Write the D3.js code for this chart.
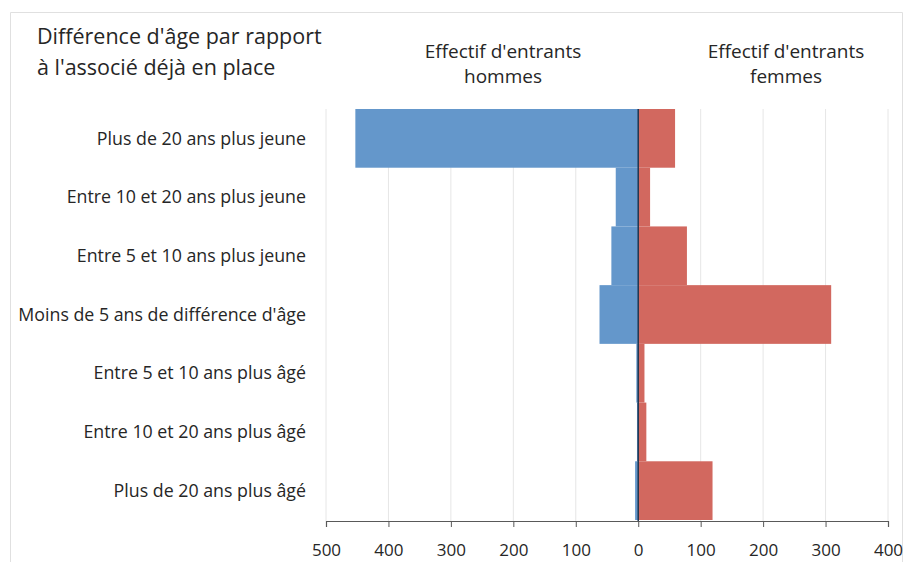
<!DOCTYPE html>
<html>
<head>
<meta charset="utf-8">
<script src="https://cdn.jsdelivr.net/npm/d3@7"></script>
<style>
  html, body { margin: 0; padding: 0; background: #ffffff; }
  svg text { font-family: "Open Sans", "Noto Sans", sans-serif; fill: #262626; }
</style>
</head>
<body>
<svg id="chart" width="909" height="562"></svg>
<script>
const categories = [
  "Plus de 20 ans plus jeune",
  "Entre 10 et 20 ans plus jeune",
  "Entre 5 et 10 ans plus jeune",
  "Moins de 5 ans de différence d'âge",
  "Entre 5 et 10 ans plus âgé",
  "Entre 10 et 20 ans plus âgé",
  "Plus de 20 ans plus âgé"
];
const hommes = [453, 36, 43, 62, 3, 2, 5];
const femmes = [59, 19, 78, 309, 10, 13, 119];
const tickValues = [-500, -400, -300, -200, -100, 0, 100, 200, 300, 400];
const titleLines = ["Différence d'âge par rapport", "à l'associé déjà en place"];
const headerHommes = ["Effectif d'entrants", "hommes"];
const headerFemmes = ["Effectif d'entrants", "femmes"];

const svg = d3.select("#chart");

// frame (top, left, right edges)
svg.append("path").attr("d", "M10.5,562 V12.5 H902.5 V562")
  .attr("fill", "none").attr("stroke", "#e0e0e0");

const x = d3.scaleLinear().domain([-500, 400]).range([326, 888]);
const y = d3.scaleBand().domain(categories).range([109, 520]).padding(0);

// gridlines
svg.append("g").selectAll("line").data(tickValues.filter(v => v !== 0)).join("line")
  .attr("x1", d => x(d)).attr("x2", d => x(d))
  .attr("y1", 109).attr("y2", 521)
  .attr("stroke", "#e6e6e6").attr("stroke-width", 1);

// bars
svg.append("g").selectAll("rect").data(categories).join("rect")
  .attr("x", (d, i) => x(-hommes[i]))
  .attr("y", d => y(d))
  .attr("width", (d, i) => x(0) - x(-hommes[i]))
  .attr("height", y.bandwidth())
  .attr("fill", "#6497cb");
svg.append("g").selectAll("rect").data(categories).join("rect")
  .attr("x", x(0))
  .attr("y", d => y(d))
  .attr("width", (d, i) => x(femmes[i]) - x(0))
  .attr("height", y.bandwidth())
  .attr("fill", "#d2685f");

// zero line
svg.append("line").attr("x1", x(0)).attr("x2", x(0)).attr("y1", 109).attr("y2", 521)
  .attr("stroke", "#1f3550").attr("stroke-width", 1.5);

// x axis
const xAxis = d3.axisBottom(x).tickValues(tickValues).tickFormat(d => Math.abs(d)).tickSize(6).tickPadding(17);
const ga = svg.append("g").attr("transform", "translate(0,521)").call(xAxis);
ga.select(".domain").attr("stroke", "#595959").attr("stroke-width", 1.2);
ga.selectAll(".tick line").attr("stroke", "#595959");
ga.selectAll(".tick text").attr("font-size", 17).attr("fill", "#404040")
  .style("font-family", "'Open Sans', sans-serif");

// category labels
svg.append("g").selectAll("text").data(categories).join("text")
  .attr("x", 306)
  .attr("y", d => y(d) + y.bandwidth() / 2)
  .attr("dy", "0.35em")
  .attr("text-anchor", "end")
  .attr("font-size", 17.8)
  .attr("fill", "#404040")
  .text(d => d);

// title
svg.append("g").selectAll("text").data(titleLines).join("text")
  .attr("x", 37).attr("y", (d, i) => 44 + i * 31)
  .attr("font-size", 21.5)
  .text(d => d);

// headers
svg.append("g").selectAll("text").data(headerHommes).join("text")
  .attr("x", 503).attr("y", (d, i) => 58 + i * 25)
  .attr("text-anchor", "middle").attr("font-size", 19)
  .text(d => d);
svg.append("g").selectAll("text").data(headerFemmes).join("text")
  .attr("x", 786).attr("y", (d, i) => 58 + i * 25)
  .attr("text-anchor", "middle").attr("font-size", 19)
  .text(d => d);
</script>
</body>
</html>
